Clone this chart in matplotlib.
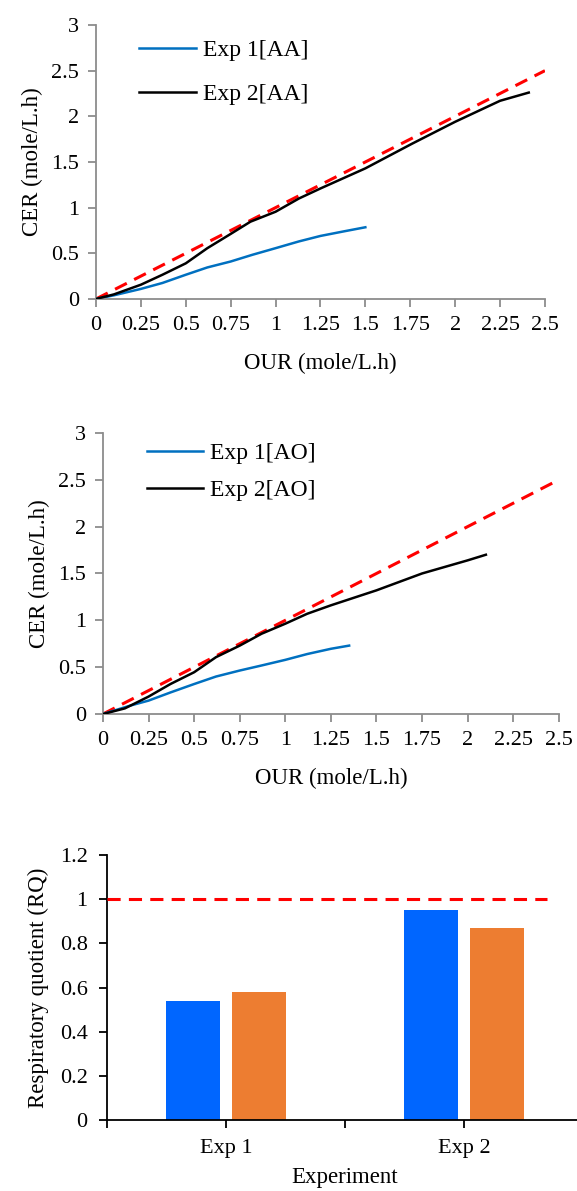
import numpy as np
import matplotlib
matplotlib.use("Agg")
import matplotlib.pyplot as plt

plt.rcParams['font.family'] = ['Liberation Serif', 'DejaVu Serif']

# CER vs OUR, acetic acid runs
our_aa1 = [0, 0.1, 0.25, 0.37, 0.5, 0.62, 0.75, 0.87, 1.0, 1.13, 1.25, 1.38, 1.5]
cer_aa1 = [0, 0.04, 0.11, 0.175, 0.265, 0.345, 0.41, 0.483, 0.556, 0.63, 0.69, 0.74, 0.785]
our_aa2 = [0, 0.1, 0.25, 0.37, 0.5, 0.62, 0.74, 0.86, 1.0, 1.13, 1.25, 1.5, 1.76, 2.0, 2.25, 2.41]
cer_aa2 = [0, 0.05, 0.156, 0.265, 0.39, 0.556, 0.70, 0.846, 0.955, 1.10, 1.21, 1.43, 1.70, 1.94, 2.17, 2.26]

# CER vs OUR, AO runs
our_ao1 = [0, 0.15, 0.25, 0.37, 0.5, 0.62, 0.75, 0.87, 1.0, 1.12, 1.25, 1.35]
cer_ao1 = [0, 0.09, 0.143, 0.23, 0.32, 0.40, 0.464, 0.518, 0.578, 0.64, 0.696, 0.73]
our_ao2 = [0, 0.12, 0.25, 0.37, 0.5, 0.62, 0.75, 0.87, 1.0, 1.12, 1.25, 1.5, 1.75, 2.0, 2.1]
cer_ao2 = [0, 0.06, 0.186, 0.32, 0.446, 0.607, 0.73, 0.857, 0.964, 1.07, 1.16, 1.32, 1.5, 1.64, 1.70]

# respiratory quotient per experiment
experiments = ['Exp 1', 'Exp 2']
rq_blue = [0.54, 0.95]
rq_orange = [0.58, 0.87]
rq_ref = 1.0

x_ticks = [0, 0.25, 0.5, 0.75, 1, 1.25, 1.5, 1.75, 2, 2.25, 2.5]
x_ticklabels = ['0', '0.25', '0.5', '0.75', '1', '1.25', '1.5', '1.75', '2', '2.25', '2.5']
y_ticks = [0, 0.5, 1, 1.5, 2, 2.5, 3]
y_ticklabels = ['0', '0.5', '1', '1.5', '2', '2.5', '3']
rq_ticks = [0, 0.2, 0.4, 0.6, 0.8, 1.0, 1.2]
rq_ticklabels = ['0', '0.2', '0.4', '0.6', '0.8', '1', '1.2']

blue = '#0070C0'
gray = '#8C8C8C'

fig = plt.figure(figsize=(5.77, 11.91), dpi=100)


def cer_panel(rect, x1, y1, x2, y2, lab1, lab2, leg_y, leg_gap):
    ax = fig.add_axes(rect)
    ax.plot([0, 2.5], [0, 2.5], color='red', lw=2.2, dashes=(4.3, 2.7), zorder=1)
    ax.plot(x1, y1, color=blue, lw=1.8, label=lab1, zorder=2)
    ax.plot(x2, y2, color='black', lw=1.8, label=lab2, zorder=3)
    ax.set_xlim(0, 2.5)
    ax.set_ylim(0, 3)
    ax.set_xticks(x_ticks)
    ax.set_xticklabels(x_ticklabels)
    ax.set_yticks(y_ticks)
    ax.set_yticklabels(y_ticklabels)
    for s in ['top', 'right']:
        ax.spines[s].set_visible(False)
    for s in ['left', 'bottom']:
        ax.spines[s].set_color(gray)
        ax.spines[s].set_linewidth(1.3)
    ax.tick_params(direction='out', length=6, width=1.3, color=gray,
                   labelsize=16, pad=6)
    ax.set_xlabel('OUR (mole/L.h)', fontsize=16.5, labelpad=13)
    ax.set_ylabel('CER (mole/L.h)', fontsize=16.5, labelpad=6)
    ax.legend(loc='upper left', bbox_to_anchor=(0.075, leg_y), frameon=False,
              fontsize=17, handlelength=2.4, handletextpad=0.3, labelspacing=leg_gap,
              borderaxespad=0)
    return ax


cer_panel([0.1664, 0.749, 0.778, 0.230], our_aa1, cer_aa1, our_aa2, cer_aa2,
          'Exp 1[AA]', 'Exp 2[AA]', 0.98, 0.95)
cer_panel([0.1785, 0.4005, 0.790, 0.236], our_ao1, cer_ao1, our_ao2, cer_ao2,
          'Exp 1[AO]', 'Exp 2[AO]', 1.0, 0.67)

# RQ bar chart
ax3 = fig.add_axes([0.1854, 0.0596, 0.825, 0.2225])
pos = np.arange(len(experiments))
w = 0.227
ax3.bar(pos - 0.14, rq_blue, width=w, color='#0066FF', zorder=2)
ax3.bar(pos + 0.14, rq_orange, width=w, color='#ED7D31', zorder=2)
ax3.plot([-0.5, 1.35], [rq_ref, rq_ref], color='red', lw=2.2, dashes=(4.3, 2.7), zorder=3)
ax3.set_xlim(-0.5, 1.5)
ax3.set_ylim(0, 1.2)
ax3.set_yticks(rq_ticks)
ax3.set_yticklabels(rq_ticklabels)
ax3.set_xticks([-0.5, 0, 0.5, 1])
ax3.set_xticklabels(['', experiments[0], '', experiments[1]])
for s in ['top', 'right']:
    ax3.spines[s].set_visible(False)
ax3.spines['left'].set_linewidth(1.3)
ax3.spines['bottom'].set_linewidth(1.3)
ax3.tick_params(direction='out', length=6, width=1.3, labelsize=16, pad=8)
ax3.set_xlabel('Experiment', fontsize=16.5, labelpad=6)
ax3.set_ylabel('Respiratory quotient (RQ)', fontsize=16.5, labelpad=8)

fig.savefig('out.png', dpi=100)
